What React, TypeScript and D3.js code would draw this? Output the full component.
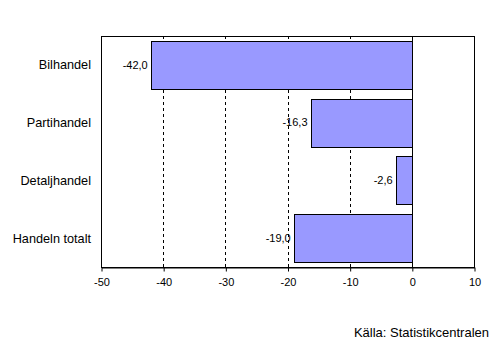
import { useEffect, useRef } from "react"
import * as d3 from "d3"

const categories = ["Bilhandel", "Partihandel", "Detaljhandel", "Handeln totalt"]
const values = [-42.0, -16.3, -2.6, -19.0]
const xTicks = [-50, -40, -30, -20, -10, 0, 10]
const gridTicks = [-40, -30, -20, -10]
const source = "Källa: Statistikcentralen"

export default function App() {
  const svgRef = useRef(null)

  useEffect(() => {
    if (!svgRef.current) return
    const svg = d3.select(svgRef.current)
    svg.selectAll("*").remove()

    const width = 503
    const height = 353
    const margin = { top: 36, right: 29, bottom: 86, left: 101 }
    const innerWidth = width - margin.left - margin.right
    const innerHeight = height - margin.top - margin.bottom
    const font = "'Liberation Sans', Arial, sans-serif"

    const x = d3.scaleLinear().domain([-50, 10]).range([0, innerWidth])
    const y = d3.scaleBand().domain(categories).range([0, innerHeight]).paddingInner(0.17).paddingOuter(0.085)

    const data = categories.map((c, i) => ({ category: c, value: values[i] }))

    const g = svg.append("g").attr("transform", `translate(${margin.left},${margin.top})`)

    // gridlines
    g.selectAll(".grid")
      .data(gridTicks)
      .enter()
      .append("line")
      .attr("x1", (d) => Math.round(x(d)) + 0.5)
      .attr("x2", (d) => Math.round(x(d)) + 0.5)
      .attr("y1", 0)
      .attr("y2", innerHeight)
      .attr("stroke", "#000")
      .attr("stroke-dasharray", "3,3")

    // frame
    g.append("rect")
      .attr("x", 0.5)
      .attr("y", 0.5)
      .attr("width", innerWidth)
      .attr("height", innerHeight)
      .attr("fill", "none")
      .attr("stroke", "#000")

    // bars
    g.selectAll(".bar")
      .data(data)
      .enter()
      .append("rect")
      .attr("x", (d) => Math.round(x(d.value)) + 0.5)
      .attr("y", (d) => Math.round(y(d.category)!) + 0.5)
      .attr("width", (d) => Math.round(x(0)) - Math.round(x(d.value)))
      .attr("height", Math.round(y.bandwidth()))
      .attr("fill", "#9999FF")
      .attr("stroke", "#000")

    // zero line
    g.append("line")
      .attr("x1", Math.round(x(0)) + 0.5)
      .attr("x2", Math.round(x(0)) + 0.5)
      .attr("y1", 0)
      .attr("y2", innerHeight)
      .attr("stroke", "#000")

    // value labels
    g.selectAll(".val")
      .data(data)
      .enter()
      .append("text")
      .attr("x", (d) => x(d.value) - 3)
      .attr("y", (d) => y(d.category)! + y.bandwidth() / 2)
      .attr("dy", "0.35em")
      .attr("text-anchor", "end")
      .attr("font-family", font)
      .attr("font-size", "11px")
      .text((d) => d.value.toFixed(1).replace(".", ","))

    // x axis
    const xAxis = g
      .append("g")
      .attr("transform", `translate(0.5,${innerHeight + 0.5})`)
      .call(d3.axisBottom(x).tickValues(xTicks).tickSize(4).tickSizeOuter(0).tickFormat((d) => String(d)))
    xAxis.select(".domain").attr("stroke", "#000")
    xAxis.selectAll("line").attr("stroke", "#000")
    xAxis.selectAll("text").attr("font-family", font).attr("font-size", "11px").attr("fill", "#000").attr("dy", "1.05em")

    // category labels
    g.selectAll(".cat")
      .data(categories)
      .enter()
      .append("text")
      .attr("x", -10)
      .attr("y", (d) => y(d)! + y.bandwidth() / 2)
      .attr("dy", "0.35em")
      .attr("text-anchor", "end")
      .attr("font-family", font)
      .attr("font-size", "12.7px")
      .text((d) => d)

    // source
    svg
      .append("text")
      .attr("x", 489)
      .attr("y", 337)
      .attr("text-anchor", "end")
      .attr("font-family", font)
      .attr("font-size", "13px")
      .text(source)

    svg.attr("width", width).attr("height", height).attr("viewBox", [0, 0, width, height])
  }, [])

  return (
    <div style={{ position: "absolute", left: 0, top: 0 }}>
      <svg ref={svgRef} style={{ display: "block", background: "#fff" }}></svg>
    </div>
  )
}
